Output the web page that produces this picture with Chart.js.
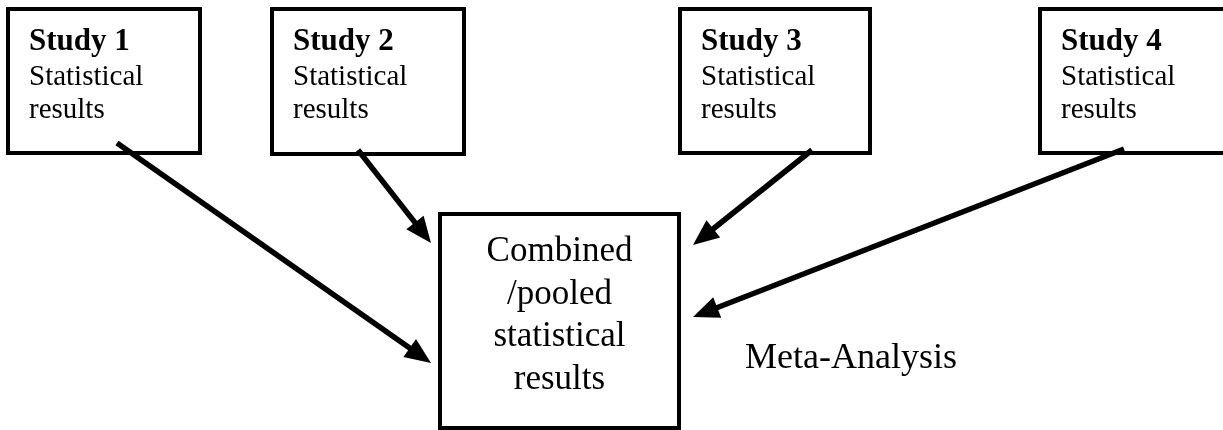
<!DOCTYPE html>
<html>
<head>
<meta charset="utf-8">
<script src="https://cdn.jsdelivr.net/npm/chart.js@4.4.1/dist/chart.umd.min.js"></script>
<style>
  html, body { margin: 0; padding: 0; background: #fff; }
  #wrap { width: 1223px; height: 430px; }
</style>
</head>
<body>
<div id="wrap"><canvas id="diagram"></canvas></div>
<script>
// ── Diagram data (in 1223 x 430 canvas units) ───────────────
const studyNames  = ['Study 1', 'Study 2', 'Study 3', 'Study 4'];
const studyLines  = ['Statistical', 'results'];
const studyBoxes  = [[8, 9, 200, 153], [272, 9, 464, 154], [680, 9, 870, 153], [1040, 9, 1245, 153]];
const poolBox     = [440, 214, 679, 428];
const poolLines   = ['Combined', '/pooled', 'statistical', 'results'];
const arrowFrom   = [[117, 143], [358, 150], [812, 150], [1124, 149]];
const arrowTo     = [[431, 363], [431, 243], [693, 245], [693, 317]];
const sideLabel   = 'Meta-Analysis';

const SERIF = '"Liberation Serif", "Times New Roman", serif';
const HEAD_LEN = 26, HEAD_HALF = 11;

function boxPoints(b) {
    return [
        { x: b[0], y: b[1] }, { x: b[2], y: b[1] },
        { x: b[2], y: b[3] }, { x: b[0], y: b[3] },
        { x: b[0], y: b[1] }
    ];
}

// shorten the shaft so the head covers the tip
function shaftPoints(from, to) {
    const dx = to[0] - from[0], dy = to[1] - from[1];
    const len = Math.hypot(dx, dy);
    const k = (len - HEAD_LEN * 0.8) / len;
    return [{ x: from[0], y: from[1] }, { x: from[0] + dx * k, y: from[1] + dy * k }];
}

const datasets = [];
studyBoxes.concat([poolBox]).forEach(b => datasets.push({
    data: boxPoints(b), showLine: true, borderColor: '#000', borderWidth: 4,
    pointRadius: 0, borderJoinStyle: 'miter', borderCapStyle: 'square', tension: 0
}));
arrowFrom.forEach((f, i) => datasets.push({
    data: shaftPoints(f, arrowTo[i]), showLine: true, borderColor: '#000', borderWidth: 5.5,
    pointRadius: 0, borderCapStyle: 'butt', tension: 0
}));

// ── Arrow heads + text ───────────────────────────────────────
const decor = {
    id: 'decor',
    afterDatasetsDraw(chart) {
        const { ctx, scales: { x, y } } = chart;
        ctx.save();
        ctx.fillStyle = '#000';

        arrowFrom.forEach((f, i) => {
            const t = arrowTo[i];
            const tx = x.getPixelForValue(t[0]), ty = y.getPixelForValue(t[1]);
            const fx = x.getPixelForValue(f[0]), fy = y.getPixelForValue(f[1]);
            const a = Math.atan2(ty - fy, tx - fx);
            const bx = tx - HEAD_LEN * Math.cos(a), by = ty - HEAD_LEN * Math.sin(a);
            ctx.beginPath();
            ctx.moveTo(tx, ty);
            ctx.lineTo(bx + HEAD_HALF * Math.sin(a), by - HEAD_HALF * Math.cos(a));
            ctx.lineTo(bx - HEAD_HALF * Math.sin(a), by + HEAD_HALF * Math.cos(a));
            ctx.closePath();
            ctx.fill();
        });

        ctx.textBaseline = 'alphabetic';
        ctx.textAlign = 'left';
        studyBoxes.forEach((b, i) => {
            const px = x.getPixelForValue(b[0] + 21);
            ctx.font = 'bold 31px ' + SERIF;
            ctx.fillText(studyNames[i], px, y.getPixelForValue(50));
            ctx.font = '29px ' + SERIF;
            studyLines.forEach((s, j) => ctx.fillText(s, px, y.getPixelForValue(85 + j * 33)));
        });

        ctx.textAlign = 'center';
        ctx.font = '35px ' + SERIF;
        const cx = x.getPixelForValue((poolBox[0] + poolBox[2]) / 2);
        poolLines.forEach((s, j) => ctx.fillText(s, cx, y.getPixelForValue(261 + j * 42.5)));

        ctx.textAlign = 'left';
        ctx.font = '36px ' + SERIF;
        ctx.fillText(sideLabel, x.getPixelForValue(745), y.getPixelForValue(368));
        ctx.restore();
    }
};

new Chart(document.getElementById('diagram').getContext('2d'), {
    type: 'scatter',
    data: { datasets },
    options: {
        responsive: true,
        maintainAspectRatio: false,
        animation: false,
        layout: { padding: 0 },
        plugins: { legend: { display: false }, tooltip: { enabled: false } },
        scales: {
            x: { type: 'linear', min: 0, max: 1223, display: false },
            y: { type: 'linear', min: 0, max: 430, reverse: true, display: false }
        }
    },
    plugins: [decor]
});
</script>
</body>
</html>
